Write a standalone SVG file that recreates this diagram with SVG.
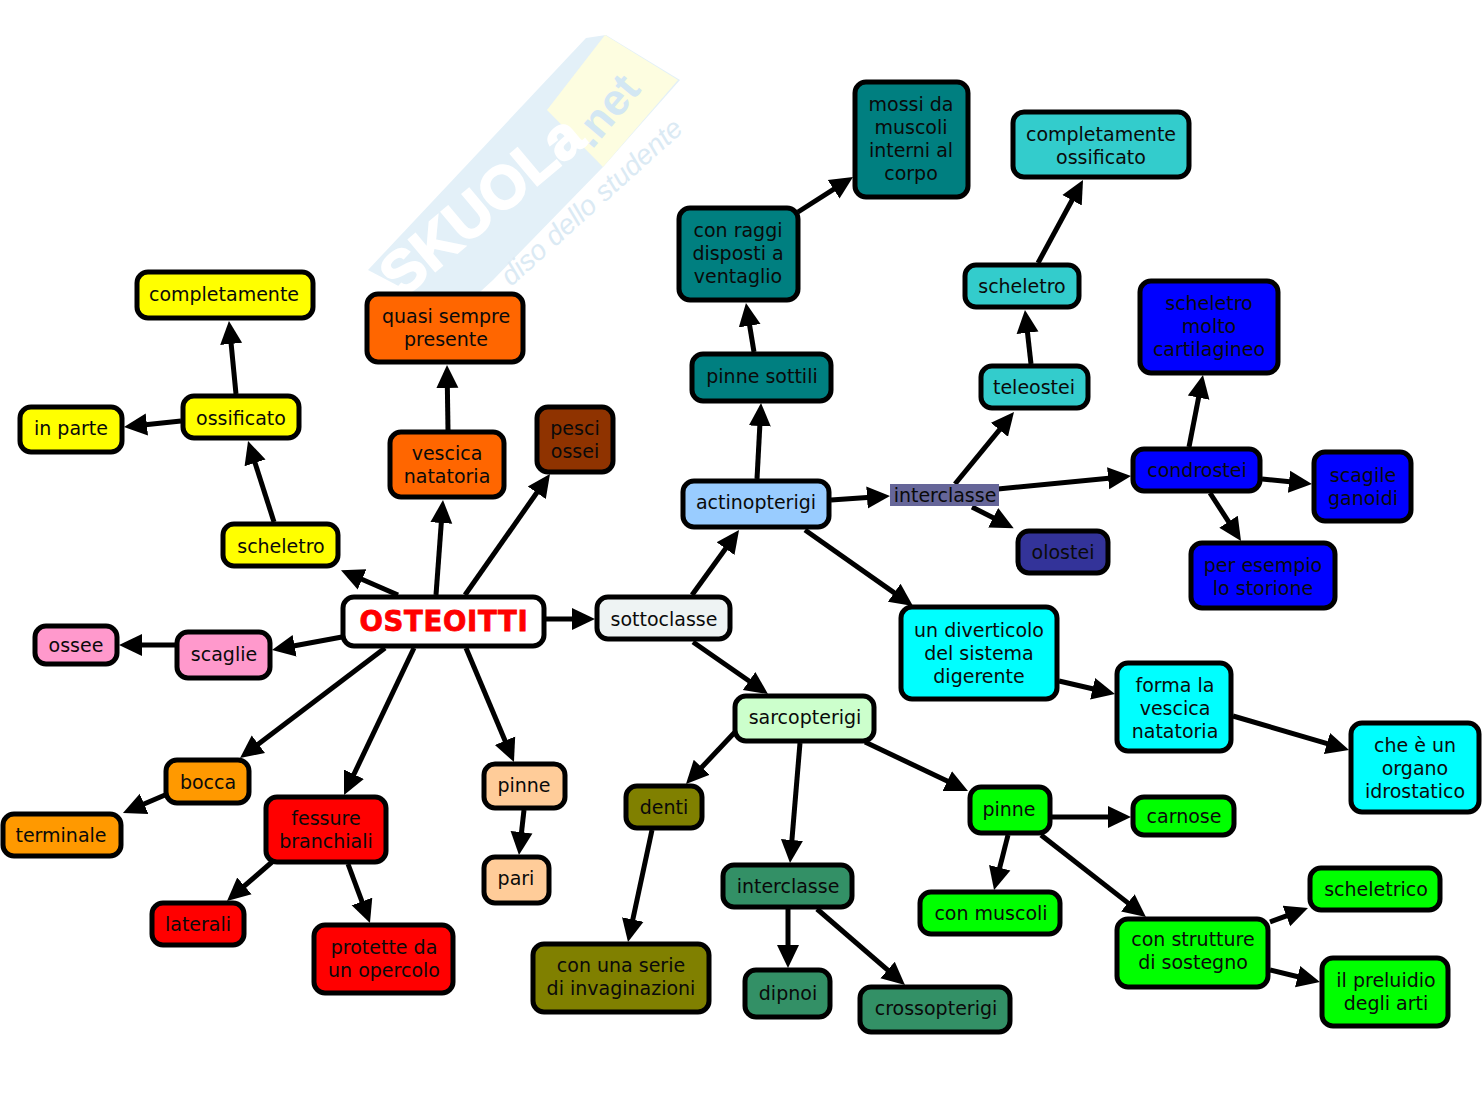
<svg xmlns="http://www.w3.org/2000/svg" width="1483" height="1116" viewBox="0 0 1483 1116">
<style>
.n rect{stroke:#000;stroke-width:5}
text{font-family:"DejaVu Sans",Verdana,sans-serif;font-size:19px;fill:#0a0a0a;text-anchor:middle}
.n text,#n-interclasse1 text{transform:translateY(1px)}
#c line{stroke:#000;stroke-width:5;marker-end:url(#a)}
.y{fill:#ffff00}.o{fill:#ff6600}.br{fill:#8f3300}.p{fill:#ff99cc}.or{fill:#ff9900}.r{fill:#ff0000}.pe{fill:#ffcc99}
.te{fill:#007f80}.tq{fill:#33cccc}.b{fill:#0000ff}.cy{fill:#00ffff}.ol{fill:#808000}.sg{fill:#339066}.g{fill:#00ff00}
.w{font-family:"Liberation Sans",sans-serif;text-anchor:start}
</style>
<defs>
<marker id="a" markerUnits="userSpaceOnUse" markerWidth="24" markerHeight="24" viewBox="0 0 24 24" refX="11" refY="12" orient="auto"><path d="M0 1L23 12L0 23Z" fill="#000"/></marker>
</defs>
<rect width="1483" height="1116" fill="#fff"/>
<g id="watermark">
<polygon points="368,270 586,38 606,35 680,80 603,167 493,280 480,292 410,292" fill="#e3f0f8"/>
<polygon points="605,35 678,80 603,167 547,110" fill="#fdfde0"/>
<text class="w" transform="translate(401.5,299.4) rotate(-40)" style="font-size:60px;font-weight:bold;fill:#fff;stroke:#fff;stroke-width:2px">SKUOLa</text>
<text class="w" transform="translate(592,150) rotate(-50)" style="font-size:44px;font-weight:bold;fill:#d3e7f3">.net</text>
<text class="w" transform="translate(511,287) rotate(-42)" style="font-size:28px;font-style:italic;fill:#dbeaf4">diso dello studente</text>
</g>
<g id="c">
<line x1="398" y1="595" x2="352" y2="575"/>
<line x1="436" y1="595" x2="442.1" y2="512"/>
<line x1="465" y1="595" x2="543.1" y2="483.8"/>
<line x1="546" y1="619" x2="583" y2="619"/>
<line x1="342" y1="637" x2="283.8" y2="647.8"/>
<line x1="175" y1="645" x2="131" y2="645"/>
<line x1="274" y1="522" x2="251.7" y2="452.4"/>
<line x1="236" y1="394" x2="230.1" y2="332.9"/>
<line x1="181" y1="421" x2="135.9" y2="425.7"/>
<line x1="448" y1="430" x2="447.2" y2="377"/>
<line x1="385" y1="648" x2="249.6" y2="750.8"/>
<line x1="414" y1="648" x2="349.2" y2="784.2"/>
<line x1="466" y1="648" x2="509.3" y2="750.9"/>
<line x1="165" y1="795" x2="134" y2="808.3"/>
<line x1="272" y1="862" x2="236.1" y2="893.1"/>
<line x1="348" y1="864" x2="365.8" y2="911.8"/>
<line x1="524" y1="810" x2="520.3" y2="843.1"/>
<line x1="692" y1="595" x2="732" y2="539.7"/>
<line x1="693" y1="642" x2="758.1" y2="687.2"/>
<line x1="757" y1="479" x2="760.4" y2="415"/>
<line x1="754" y1="352" x2="747.9" y2="314.8"/>
<line x1="798" y1="212" x2="842.9" y2="183.4"/>
<line x1="831" y1="500" x2="878" y2="496.8"/>
<line x1="955" y1="484" x2="1006.4" y2="421.3"/>
<line x1="972" y1="507" x2="1003" y2="522.8"/>
<line x1="998" y1="489" x2="1119.1" y2="477.2"/>
<line x1="1031" y1="364" x2="1026.3" y2="321.9"/>
<line x1="1038" y1="263" x2="1077.3" y2="190.5"/>
<line x1="1189" y1="447" x2="1200.7" y2="386.8"/>
<line x1="1262" y1="479" x2="1300" y2="482.8"/>
<line x1="1210" y1="493" x2="1234.5" y2="530.9"/>
<line x1="805" y1="530" x2="903.2" y2="599.1"/>
<line x1="1059" y1="681" x2="1103.3" y2="691.3"/>
<line x1="1233" y1="716" x2="1337.5" y2="746.6"/>
<line x1="735" y1="732" x2="694.2" y2="775.3"/>
<line x1="800" y1="743" x2="791" y2="851"/>
<line x1="865" y1="742" x2="957.2" y2="785.8"/>
<line x1="652" y1="830" x2="630.5" y2="930.3"/>
<line x1="788" y1="909" x2="788" y2="956"/>
<line x1="817" y1="909" x2="895.9" y2="977.2"/>
<line x1="1052" y1="817" x2="1119" y2="817"/>
<line x1="1008" y1="835" x2="997" y2="878.4"/>
<line x1="1041" y1="835" x2="1136.5" y2="909.6"/>
<line x1="1270" y1="922" x2="1296.7" y2="912.2"/>
<line x1="1270" y1="970" x2="1308.3" y2="979.2"/>
</g>
<g id="n-completamente" class="n"><rect class="y" x="137" y="272" width="176" height="46" rx="11"/><text x="224" y="300">completamente</text></g>
<g id="n-quasi" class="n"><rect class="o" x="367" y="294" width="156" height="68" rx="11"/><text x="446" y="322">quasi sempre</text><text x="446" y="345">presente</text></g>
<g id="n-ossificato" class="n"><rect class="y" x="183" y="396" width="116" height="42" rx="11"/><text x="241" y="424">ossificato</text></g>
<g id="n-inparte" class="n"><rect class="y" x="20" y="407" width="102" height="45" rx="11"/><text x="71" y="434">in parte</text></g>
<g id="n-vescica" class="n"><rect class="o" x="390" y="432" width="114" height="65" rx="11"/><text x="447" y="459">vescica</text><text x="447" y="482">natatoria</text></g>
<g id="n-pesci" class="n"><rect class="br" x="537" y="407" width="76" height="65" rx="11"/><text x="575" y="434">pesci</text><text x="575" y="457">ossei</text></g>
<g id="n-scheletro1" class="n"><rect class="y" x="223" y="524" width="115" height="42" rx="11"/><text x="281" y="552">scheletro</text></g>
<g id="n-osteoitti" class="n"><rect fill="#fff" x="343" y="597" width="201" height="49" rx="11"/><text x="444" y="630" style="font-size:27.5px;font-weight:bold;fill:#f00;stroke:#f00;stroke-width:.8px;letter-spacing:.7px">OSTEOITTI</text></g>
<g id="n-ossee" class="n"><rect class="p" x="35" y="626" width="82" height="38" rx="11"/><text x="76" y="651">ossee</text></g>
<g id="n-scaglie" class="n"><rect class="p" x="177" y="632" width="93" height="46" rx="11"/><text x="224" y="660">scaglie</text></g>
<g id="n-bocca" class="n"><rect class="or" x="166" y="760" width="83" height="43" rx="11"/><text x="208" y="788">bocca</text></g>
<g id="n-terminale" class="n"><rect class="or" x="3" y="814" width="118" height="42" rx="11"/><text x="61" y="841">terminale</text></g>
<g id="n-fessure" class="n"><rect class="r" x="266" y="797" width="120" height="65" rx="11"/><text x="326" y="824">fessure</text><text x="326" y="847">branchiali</text></g>
<g id="n-laterali" class="n"><rect class="r" x="152" y="903" width="92" height="42" rx="11"/><text x="198" y="930">laterali</text></g>
<g id="n-protette" class="n"><rect class="r" x="314" y="925" width="139" height="68" rx="11"/><text x="384" y="953">protette da</text><text x="384" y="976">un opercolo</text></g>
<g id="n-pinne1" class="n"><rect class="pe" x="484" y="764" width="81" height="44" rx="11"/><text x="524" y="791">pinne</text></g>
<g id="n-pari" class="n"><rect class="pe" x="484" y="857" width="65" height="46" rx="11"/><text x="516" y="884">pari</text></g>
<g id="n-sottoclasse" class="n"><rect fill="#eef3f3" x="597" y="597" width="133" height="42" rx="11"/><text x="664" y="625">sottoclasse</text></g>
<g id="n-actinopterigi" class="n"><rect fill="#99ccff" x="683" y="481" width="146" height="46" rx="11"/><text x="756" y="508">actinopterigi</text></g>
<g id="n-interclasse1"><rect fill="#666699" x="890" y="484" width="109" height="22"/><text x="945" y="501">interclasse</text></g>
<g id="n-olostei" class="n"><rect fill="#333399" x="1018" y="531" width="90" height="42" rx="11"/><text x="1063" y="558">olostei</text></g>
<g id="n-pinnesottili" class="n"><rect class="te" x="692" y="354" width="139" height="47" rx="11"/><text x="762" y="382">pinne sottili</text></g>
<g id="n-conraggi" class="n"><rect class="te" x="679" y="208" width="119" height="92" rx="11"/><text x="738" y="236">con raggi</text><text x="738" y="259">disposti a</text><text x="738" y="282">ventaglio</text></g>
<g id="n-mossi" class="n"><rect class="te" x="855" y="82" width="113" height="115" rx="11"/><text x="911" y="110">mossi da</text><text x="911" y="133">muscoli</text><text x="911" y="156">interni al</text><text x="911" y="179">corpo</text></g>
<g id="n-teleostei" class="n"><rect class="tq" x="981" y="366" width="107" height="42" rx="11"/><text x="1034" y="393">teleostei</text></g>
<g id="n-scheletro2" class="n"><rect class="tq" x="965" y="265" width="114" height="42" rx="11"/><text x="1022" y="292">scheletro</text></g>
<g id="n-compossificato" class="n"><rect class="tq" x="1013" y="112" width="176" height="65" rx="11"/><text x="1101" y="140">completamente</text><text x="1101" y="163">ossificato</text></g>
<g id="n-condrostei" class="n"><rect class="b" x="1133" y="449" width="127" height="42" rx="11"/><text x="1197" y="476">condrostei</text></g>
<g id="n-cartilagineo" class="n"><rect class="b" x="1140" y="281" width="138" height="92" rx="11"/><text x="1209" y="309">scheletro</text><text x="1209" y="332">molto</text><text x="1209" y="355">cartilagineo</text></g>
<g id="n-ganoidi" class="n"><rect class="b" x="1314" y="452" width="97" height="69" rx="11"/><text x="1363" y="481">scagile</text><text x="1363" y="504">ganoidi</text></g>
<g id="n-storione" class="n"><rect class="b" x="1191" y="543" width="144" height="65" rx="11"/><text x="1263" y="571">per esempio</text><text x="1263" y="594">lo storione</text></g>
<g id="n-diverticolo" class="n"><rect class="cy" x="901" y="607" width="156" height="92" rx="11"/><text x="979" y="636">un diverticolo</text><text x="979" y="659">del sistema</text><text x="979" y="682">digerente</text></g>
<g id="n-forma" class="n"><rect class="cy" x="1117" y="663" width="114" height="88" rx="11"/><text x="1175" y="691">forma la</text><text x="1175" y="714">vescica</text><text x="1175" y="737">natatoria</text></g>
<g id="n-organo" class="n"><rect class="cy" x="1351" y="723" width="128" height="89" rx="11"/><text x="1415" y="751">che è un</text><text x="1415" y="774">organo</text><text x="1415" y="797">idrostatico</text></g>
<g id="n-sarcopterigi" class="n"><rect fill="#ccffcc" x="735" y="696" width="139" height="45" rx="11"/><text x="805" y="723">sarcopterigi</text></g>
<g id="n-denti" class="n"><rect class="ol" x="626" y="786" width="76" height="42" rx="11"/><text x="664" y="813">denti</text></g>
<g id="n-serie" class="n"><rect class="ol" x="533" y="944" width="176" height="68" rx="11"/><text x="621" y="971">con una serie</text><text x="621" y="994">di invaginazioni</text></g>
<g id="n-interclasse2" class="n"><rect class="sg" x="723" y="865" width="129" height="42" rx="11"/><text x="788" y="892">interclasse</text></g>
<g id="n-dipnoi" class="n"><rect class="sg" x="745" y="970" width="85" height="47" rx="11"/><text x="788" y="999">dipnoi</text></g>
<g id="n-crossopterigi" class="n"><rect class="sg" x="860" y="987" width="150" height="45" rx="11"/><text x="936" y="1014">crossopterigi</text></g>
<g id="n-pinne2" class="n"><rect class="g" x="970" y="787" width="80" height="46" rx="11"/><text x="1009" y="815">pinne</text></g>
<g id="n-carnose" class="n"><rect class="g" x="1133" y="797" width="101" height="38" rx="11"/><text x="1184" y="822">carnose</text></g>
<g id="n-muscoli" class="n"><rect class="g" x="920" y="892" width="140" height="42" rx="11"/><text x="991" y="919">con muscoli</text></g>
<g id="n-strutture" class="n"><rect class="g" x="1117" y="919" width="151" height="68" rx="11"/><text x="1193" y="945">con strutture</text><text x="1193" y="968">di sostegno</text></g>
<g id="n-scheletrico" class="n"><rect class="g" x="1310" y="868" width="130" height="42" rx="11"/><text x="1376" y="895">scheletrico</text></g>
<g id="n-preluidio" class="n"><rect class="g" x="1322" y="958" width="126" height="68" rx="11"/><text x="1386" y="986">il preluidio</text><text x="1386" y="1009">degli arti</text></g>
</svg>
